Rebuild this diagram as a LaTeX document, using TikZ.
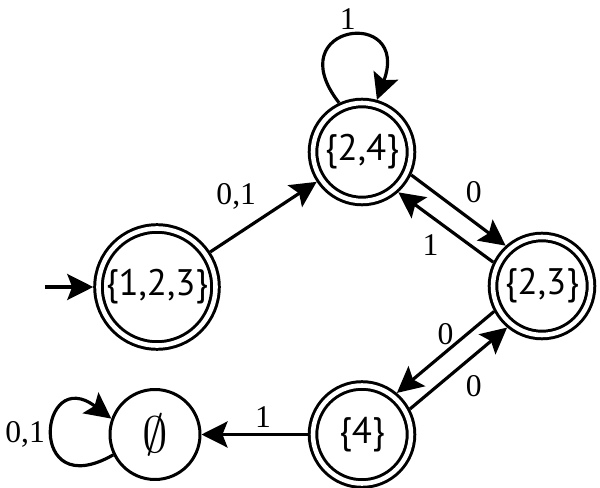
\documentclass[tikz,border=0pt]{standalone}
\usepackage{fontspec}
\setmainfont{Liberation Serif}
\setsansfont{PT Sans}
\usetikzlibrary{arrows.meta}

\begin{document}
\begin{tikzpicture}[
  x=1cm, y=1cm,
  state/.style={draw, circle, line width=1.7pt, inner sep=0pt, minimum size=1.80cm, font=\sffamily\fontsize{21}{24}\selectfont},
  accept/.style={state, double, double distance=2.6pt, outer sep=3pt, minimum size=1.96cm},
  trans/.style={-{Stealth[length=5.2mm, width=5.2mm, inset=1mm]}, line width=1.8pt},
  lbl/.style={font=\fontsize{18}{20}\selectfont}
]
\useasboundingbox (0,0) rectangle (12,-9.76);

\node[accept] (q123) at (3.14, -5.74) [minimum size=2.34cm] {\{1,2,3\}};
\node[accept] (q24)  at (7.24, -3.04) {\{2,4\}};
\node[accept] (q23)  at (10.84, -5.72) {\{2,3\}};
\node[accept] (q4)   at (7.24, -8.69) {\{4\}};
\node[state]  (qe)   at (3.10, -8.69) {\scalebox{1.4}{$\emptyset$}};
\coordinate (start) at (0.9, -5.74);

\draw[trans] (start) -- (q123);
\draw[trans] (q123) -- node[lbl, above left] {0,1} (q24);
\draw[trans] (q24.115) .. controls +(128:2.0) and +(70:2.0) .. node[lbl, above] {1} (q24.74);
\draw[trans] (q24.-25) -- node[lbl, above right] {0} (q23.132);
\draw[trans] (q23.154) -- node[lbl, below left] {1} (q24.-48);
\draw[trans] (q23.208) -- node[lbl, above] {0} (q4.50);
\draw[trans] (q4.28) -- node[lbl, below right] {0} (q23.230);
\draw[trans] (q4) -- node[lbl, above, pos=.42] {1} (qe);
\draw[trans] (qe.206) .. controls +(-1.75,-1.0) and +(-1.45,1.1) .. node[lbl, left] {0,1} (qe.160);
\end{tikzpicture}
\end{document}
